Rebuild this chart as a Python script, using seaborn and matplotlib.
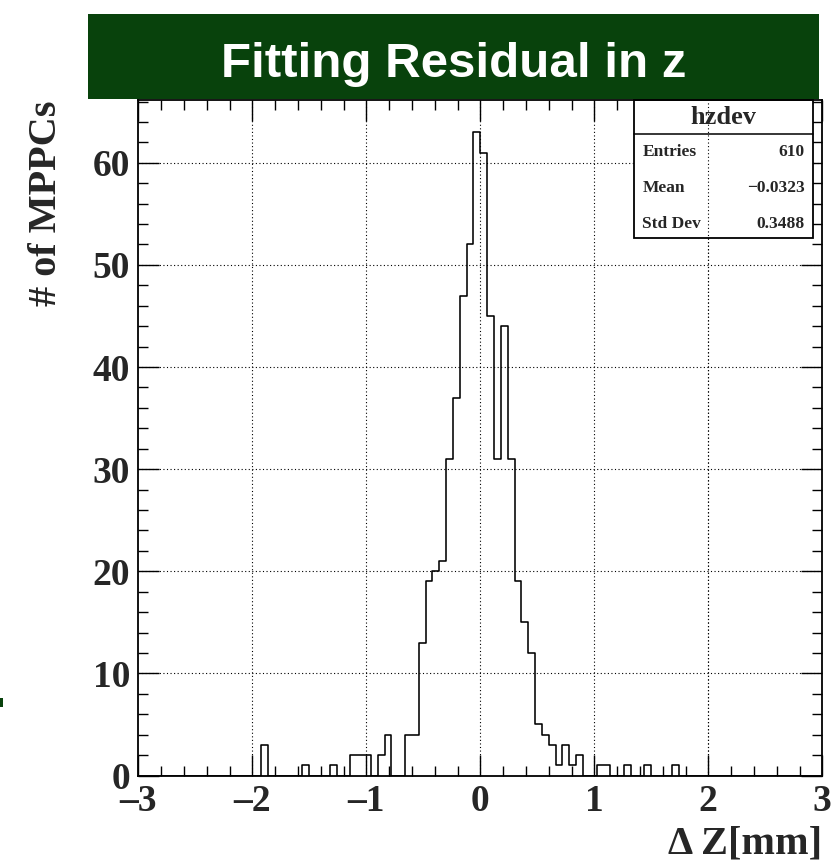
import numpy as np
import pandas as pd
import matplotlib
matplotlib.use("Agg")
import matplotlib.pyplot as plt
from matplotlib.patches import Rectangle
from matplotlib.ticker import MultipleLocator
import seaborn as sns

# ---- data ----
x_range = (-3.0, 3.0)
n_bins = 100
counts = [
    0, 0, 0, 0, 0, 0, 0, 0, 0, 0,
    0, 0, 0, 0, 0, 0, 0, 0, 3, 0,
    0, 0, 0, 0, 1, 0, 0, 0, 1, 0,
    0, 2, 2, 2, 0, 2, 4, 0, 0, 4,
    4, 13, 19, 20, 21, 31, 37, 47, 52, 63,
    61, 45, 31, 44, 31, 19, 15, 12, 5, 4,
    3, 1, 3, 1, 2, 0, 0, 1, 1, 0,
    0, 1, 0, 0, 1, 0, 0, 0, 1, 0,
    0, 0, 0, 0, 0, 0, 0, 0, 0, 0,
    0, 0, 0, 0, 0, 0, 0, 0, 0, 0,
]
x_ticks = [-3, -2, -1, 0, 1, 2, 3]
y_ticks = [0, 10, 20, 30, 40, 50, 60]
title = "Fitting Residual in z"
x_label = "\u0394 Z[mm]"
y_label = "# of MPPCs"
stats_name = "hzdev"
stats_rows = [("Entries", "610"), ("Mean", "\u22120.0323"), ("Std Dev", "0.3488")]

W, H = 839, 863
sns.set_theme(style="white")
plt.rcParams["font.family"] = ["Liberation Serif", "DejaVu Serif"]

fig = plt.figure(figsize=(W / 100, H / 100), dpi=100)
fig.patch.set_facecolor("white")

L, R, T, B = 138.3, 822.3, 100.0, 775.5
ax = fig.add_axes([L / W, 1 - B / H, (R - L) / W, (B - T) / H])
ax.set_facecolor("white")

edges = np.linspace(x_range[0], x_range[1], n_bins + 1)
df = pd.DataFrame({"x": 0.5 * (edges[:-1] + edges[1:]), "w": counts})
sns.histplot(data=df, x="x", weights="w", bins=n_bins, binrange=x_range,
             element="step", fill=False, color="black", linewidth=1.15, ax=ax, zorder=2)

ax.set_xlim(*x_range)
ax.set_ylim(0, max(counts) * 1.05)

# grid drawn manually so the stats box can cover it
grid_kw = dict(color="black", linewidth=0.8, linestyle=(0, (1, 2.2)), zorder=0.5)
for xv in x_ticks[1:-1]:
    ax.axvline(xv, **grid_kw)
for yv in y_ticks[1:]:
    ax.axhline(yv, **grid_kw)

ax.set_xticks(x_ticks)
ax.set_yticks(y_ticks)
ax.xaxis.set_minor_locator(MultipleLocator(0.2))
ax.yaxis.set_minor_locator(MultipleLocator(2))
ax.set_xticklabels([str(v).replace("-", "\u2013") for v in x_ticks])
ax.set_yticklabels([str(v) for v in y_ticks])
ax.tick_params(which="both", direction="in", top=True, right=True,
               bottom=True, left=True, color="black", width=1.0)
ax.tick_params(which="major", length=15)
ax.tick_params(which="minor", length=7.5)
ax.tick_params(axis="x", which="major", pad=6, labelsize=27)
ax.tick_params(axis="y", which="major", pad=6, labelsize=27)
for lab in ax.get_xticklabels() + ax.get_yticklabels():
    lab.set_fontweight("bold")
ax.set_xlabel("")
ax.set_ylabel("")
for s in ax.spines.values():
    s.set_color("black")
    s.set_linewidth(1.3)
    s.set_visible(True)

# stats box
bx0, bx1, by0, by1, bsep = 634, 813, 100, 238.3, 134.3
ax.add_patch(Rectangle((bx0 / W, 1 - by1 / H), (bx1 - bx0) / W, (by1 - by0) / H,
                       transform=fig.transFigure, facecolor="white", edgecolor="black",
                       linewidth=1.3, zorder=1.0, clip_on=False))
ax.plot([bx0 / W, bx1 / W], [1 - bsep / H, 1 - bsep / H], transform=fig.transFigure,
        color="black", linewidth=1.1, zorder=1.05, clip_on=False)
ax.axvline(2, **{**grid_kw, "zorder": 1.1})
ax.text((bx0 + bx1) / 2 / W, 1 - 118 / H, stats_name, transform=fig.transFigure,
        ha="center", va="center", fontsize=19, fontweight="bold", zorder=3)
for (name, val), yc in zip(stats_rows, [152.5, 188.5, 224.5]):
    ax.text(642.5 / W, 1 - yc / H, name, transform=fig.transFigure, ha="left",
            va="center", fontsize=12.5, fontweight="bold", zorder=3)
    ax.text(804.5 / W, 1 - yc / H, val, transform=fig.transFigure, ha="right",
            va="center", fontsize=12.5, fontweight="bold", zorder=3)

# title banner
green = "#08420c"
fig.patches.append(Rectangle((88 / W, 1 - 99.3 / H), (819.3 - 88) / W, (99.3 - 14) / H,
                             transform=fig.transFigure, facecolor=green,
                             edgecolor="none", zorder=1))
fig.text(453.5 / W, 1 - 77.3 / H, title, ha="center", va="baseline", color="white",
         fontsize=35.5, fontweight="bold", family=["Liberation Sans", "DejaVu Sans"],
         zorder=2)
# small green mark at left edge
fig.patches.append(Rectangle((0, 1 - 707 / H), 2.5 / W, 9 / H, transform=fig.transFigure,
                             facecolor=green, edgecolor="none", zorder=1))

# axis titles
fig.text(47 / W, 1 - 101 / H, y_label, rotation=90, ha="center", va="top",
         fontsize=29, fontweight="bold")
fig.text(822 / W, 1 - 853 / H, x_label, ha="right", va="baseline",
         fontsize=29, fontweight="bold")

fig.savefig("out.png", dpi=100)
